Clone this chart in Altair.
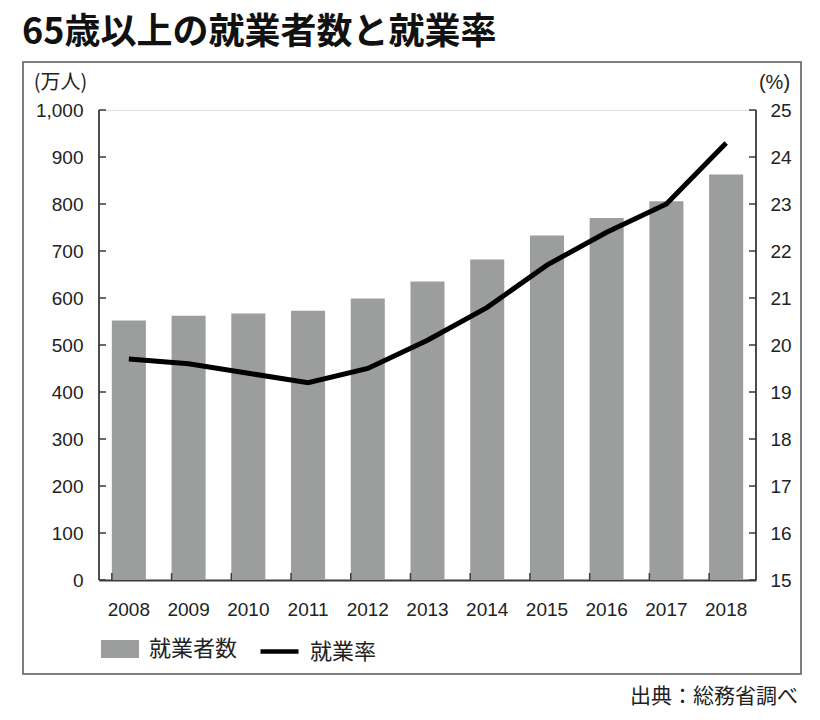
import altair as alt
import pandas as pd

years = ["2008", "2009", "2010", "2011", "2012", "2013", "2014", "2015", "2016", "2017", "2018"]
workers = [552, 562, 567, 573, 599, 635, 682, 733, 770, 806, 863]
rate = [19.7, 19.6, 19.4, 19.2, 19.5, 20.1, 20.8, 21.7, 22.4, 23.0, 24.3]
left_ticks = [0, 100, 200, 300, 400, 500, 600, 700, 800, 900, 1000]
right_ticks = [15, 16, 17, 18, 19, 20, 21, 22, 23, 24, 25]
title_text = "65歳以上の就業者数と就業率"
source_text = "出典：総務省調べ"
bar_label = "就業者数"
line_label = "就業率"
left_unit = "(万人)"
right_unit = "(%)"

W, H = 657, 470
FONT = "Liberation Sans, Noto Sans CJK JP, sans-serif"
CJK = "Noto Sans CJK JP, sans-serif"
AX = "#3a3a3a"
BAR = "#9c9e9d"
TXT = "#222222"

df = pd.DataFrame({"year": years, "workers": workers, "rate": rate,
                   "s1": [bar_label] * len(years), "s2": [line_label] * len(years)})
lt = pd.DataFrame({"workers": left_ticks})
rt = pd.DataFrame({"rate": right_ticks})
src = pd.DataFrame({"t": [source_text]})
ttl = pd.DataFrame({"t": [title_text]})

xscale = alt.Scale(paddingInner=0.43, paddingOuter=0.215)
xaxis = alt.Axis(title=None, labelAngle=0, labelFont=FONT, labelFontSize=19, labelColor=TXT,
                 labelPadding=20, ticks=False, domainColor=AX, domainWidth=1.8)
lscale = alt.Scale(domain=[0, 1000], nice=False, zero=True)
rscale = alt.Scale(domain=[15, 25], nice=False, zero=False)

laxis = alt.Axis(title=left_unit, orient="left", values=left_ticks, format=",.0f",
                 ticks=False, labels=True, domain=False, labelFont=FONT, labelFontSize=19,
                 labelColor=TXT, labelPadding=16, grid=False,
                 titleAngle=0, titleX=-39, titleY=-28, titleAlign="center",
                 titleBaseline="middle", titleFont=CJK, titleFontSize=20,
                 titleFontWeight="normal", titleColor=TXT)
raxis = alt.Axis(title=right_unit, orient="right", values=right_ticks, format=".0f",
                 ticks=False, labels=True, domain=False, labelFont=FONT, labelFontSize=19,
                 labelColor=TXT, labelPadding=14, grid=False,
                 titleAngle=0, titleX=18, titleY=-28, titleAlign="center",
                 titleBaseline="middle", titleFont=FONT, titleFontSize=20,
                 titleFontWeight="normal", titleColor=TXT)

frame = alt.Chart(src).mark_rect(fill=None, stroke="#555555", strokeWidth=1.5).encode(
    x=alt.value(-76), x2=alt.value(702), y=alt.value(-48), y2=alt.value(564))

title = alt.Chart(ttl).mark_text(align="left", baseline="middle", font=CJK, fontSize=36,
                                 fontWeight="bold", color="#111111").encode(
    x=alt.value(-77), y=alt.value(-77), text="t:N")

source = alt.Chart(src).mark_text(align="right", baseline="middle", font=CJK, fontSize=21,
                                  color=TXT).encode(
    x=alt.value(699), y=alt.value(587), text="t:N")

# vertical axis lines (left and right)
vlines = alt.Chart(src).mark_rule(color=AX, strokeWidth=1.8).encode(
    x=alt.value(0), y=alt.value(0), y2=alt.value(H))
vlines_r = alt.Chart(src).mark_rule(color=AX, strokeWidth=1.8).encode(
    x=alt.value(W), y=alt.value(0), y2=alt.value(H))

bars = alt.Chart(df).mark_bar(color=BAR).encode(
    x=alt.X("year:N", scale=xscale, axis=xaxis, sort=years),
    y=alt.Y("workers:Q", scale=lscale, axis=laxis),
    fill=alt.Fill("s1:N", scale=alt.Scale(range=[BAR]),
                  legend=alt.Legend(title=None, orient="none", legendX=2, legendY=520,
                                    symbolType="M-1,-0.47L1,-0.47L1,0.47L-1,0.47Z",
                                    symbolSize=1444, symbolStrokeWidth=0,
                                    labelFont=CJK, labelFontSize=22, labelColor=TXT,
                                    labelOffset=10)),
)

lticks = alt.Chart(lt).mark_rule(color=AX, strokeWidth=1.5).encode(
    y=alt.Y("workers:Q", scale=lscale, axis=laxis),
    x=alt.value(0), x2=alt.value(7))

xticks = alt.Chart(df).mark_rule(color=AX, strokeWidth=1.5).encode(
    x=alt.X("year:N", bandPosition=0, sort=years),
    y=alt.value(H), y2=alt.value(H - 7))

line = alt.Chart(df).mark_line(strokeWidth=5, strokeJoin="miter").encode(
    x=alt.X("year:N", sort=years),
    y=alt.Y("rate:Q", scale=rscale, axis=raxis),
    stroke=alt.Stroke("s2:N", scale=alt.Scale(range=["#000000"]),
                      legend=alt.Legend(title=None, orient="none", legendX=159, legendY=520,
                                        symbolType="stroke", symbolSize=1444,
                                        symbolStrokeWidth=4.5, labelFont=CJK,
                                        labelFontSize=22, labelColor=TXT, labelOffset=9)),
)

rticks = alt.Chart(rt).mark_rule(color=AX, strokeWidth=1.5).encode(
    y=alt.Y("rate:Q", scale=rscale, axis=raxis),
    x=alt.value(W - 7), x2=alt.value(W))

left = alt.layer(frame, title, source, bars, lticks, xticks, vlines, vlines_r)
right = alt.layer(line, rticks)

chart = alt.layer(left, right).resolve_scale(y="independent").properties(
    width=W, height=H,
    autosize=alt.AutoSizeParams(type="none"),
    padding={"left": 99, "top": 110, "right": 64, "bottom": 140},
).configure_view(stroke=None).configure(background="white")

chart.save("out.html", embed_options={"renderer": "svg", "actions": False})
